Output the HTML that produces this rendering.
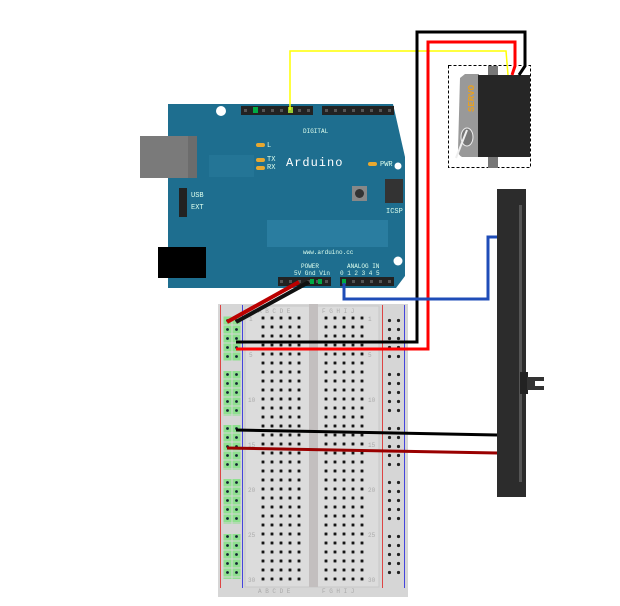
<!DOCTYPE html>
<html><head><meta charset="utf-8"><style>
html,body{margin:0;padding:0;background:#fff;width:620px;height:606px;overflow:hidden}
svg{display:block}
text{font-family:"Liberation Mono",monospace}
</style></head><body>
<svg width="620" height="606" viewBox="0 0 620 606" xmlns="http://www.w3.org/2000/svg">
<defs>
<pattern id="h" x="259" y="314" width="9" height="9" patternUnits="userSpaceOnUse">
<circle cx="4" cy="4" r="2" fill="#888"/><circle cx="4" cy="4" r="1.2" fill="#111"/>
</pattern>
<pattern id="g" x="223" y="316" width="9" height="9" patternUnits="userSpaceOnUse">
<rect x="0.5" y="0.5" width="8" height="8" fill="#8fe08f"/><circle cx="4.5" cy="4.5" r="1.4" fill="#123"/>
</pattern>
<pattern id="rh" x="385" y="316" width="9" height="9" patternUnits="userSpaceOnUse">
<circle cx="4.5" cy="4.5" r="1.6" fill="#222"/>
</pattern>
<pattern id="hd" x="241" y="106" width="9" height="9" patternUnits="userSpaceOnUse">
<rect width="9" height="9" fill="#222"/><rect x="3" y="3" width="3" height="3" fill="#555"/>
</pattern>
</defs>

<!-- breadboard -->
<rect x="218" y="304" width="190" height="293" fill="#d6d6d6"/>
<rect x="245" y="306" width="134" height="281" fill="#dcdcdc" stroke="#c8c8c8"/>
<rect x="309" y="304" width="9" height="283" fill="#c3bfbf"/>
<line x1="220.5" y1="305" x2="220.5" y2="588" stroke="#d44" stroke-width="1"/>
<line x1="242.5" y1="305" x2="242.5" y2="588" stroke="#44d" stroke-width="1"/>
<line x1="382.5" y1="305" x2="382.5" y2="588" stroke="#d44" stroke-width="1"/>
<line x1="404.5" y1="305" x2="404.5" y2="588" stroke="#44d" stroke-width="1"/>
<rect x="259" y="314" width="45" height="270" fill="url(#h)"/>
<rect x="322" y="314" width="45" height="270" fill="url(#h)"/>
<g fill="url(#g)">
<rect x="223" y="316" width="18" height="45"/><rect x="223" y="371" width="18" height="45"/>
<rect x="223" y="425" width="18" height="45"/><rect x="223" y="479" width="18" height="45"/>
<rect x="223" y="534" width="18" height="45"/>
</g>
<g fill="url(#rh)">
<rect x="385" y="316" width="18" height="45"/><rect x="385" y="371" width="18" height="45"/>
<rect x="385" y="425" width="18" height="45"/><rect x="385" y="479" width="18" height="45"/>
<rect x="385" y="534" width="18" height="45"/>
</g>
<g font-size="6" fill="#aaa" font-family="Liberation Sans,sans-serif">
<text x="258" y="313">A B C D E</text><text x="322" y="313">F G H I J</text>
<text x="258" y="593">A B C D E</text><text x="322" y="593">F G H I J</text>
<text x="249" y="321">1</text><text x="249" y="357">5</text><text x="248" y="402">10</text><text x="248" y="447">15</text><text x="248" y="492">20</text><text x="248" y="537">25</text><text x="248" y="582">30</text>
<text x="368" y="321">1</text><text x="368" y="357">5</text><text x="368" y="402">10</text><text x="368" y="447">15</text><text x="368" y="492">20</text><text x="368" y="537">25</text><text x="368" y="582">30</text>
</g>

<!-- Arduino -->
<path d="M168 104 H393 L405 157 V276 L396 288 H168 Z" fill="#1e6e8f"/>
<rect x="140" y="136" width="57" height="42" fill="#7a7a7a"/><rect x="188" y="136" width="9" height="42" fill="#6c6c6c"/>
<rect x="158" y="247" width="48" height="31" fill="#000"/>
<rect x="267" y="220" width="121" height="27" fill="#2a7da0"/>
<rect x="209" y="155" width="45" height="22" fill="#247596"/>
<circle cx="221" cy="111" r="5" fill="#fff"/><circle cx="398" cy="166" r="3.5" fill="#fff"/><circle cx="398" cy="261" r="4.5" fill="#fff"/>
<rect x="241" y="106" width="72" height="9" fill="url(#hd)"/>
<rect x="322" y="106" width="72" height="9" fill="url(#hd)"/>
<rect x="278" y="277" width="53" height="9" fill="url(#hd)"/>
<rect x="340" y="277" width="54" height="9" fill="url(#hd)"/>
<rect x="253" y="107" width="5" height="6" fill="#0a4"/><rect x="288" y="107" width="5" height="6" fill="#9c3"/>
<rect x="310" y="279" width="4" height="5" fill="#0a4"/><rect x="318" y="279" width="4" height="5" fill="#0a4"/><rect x="342" y="279" width="4" height="5" fill="#0a4"/>
<rect x="352" y="186" width="15" height="15" fill="#888"/><circle cx="359.5" cy="193.5" r="4.5" fill="#333"/>
<rect x="385" y="179" width="18" height="24" fill="#333"/>
<rect x="179" y="188" width="8" height="29" fill="#222"/>
<g fill="#e8a830"><rect x="256" y="143" width="9" height="4" rx="2"/><rect x="256" y="158" width="9" height="4" rx="2"/><rect x="256" y="166" width="9" height="4" rx="2"/><rect x="368" y="162" width="9" height="4" rx="2"/></g>
<g fill="#dfe" font-size="7">
<text x="286" y="166" font-size="12" fill="#fff" letter-spacing="1">Arduino</text>
<text x="267" y="147">L</text><text x="267" y="161">TX</text><text x="267" y="169">RX</text>
<text x="380" y="166">PWR</text><text x="191" y="197">USB</text><text x="191" y="209">EXT</text>
<text x="386" y="213">ICSP</text><text x="303" y="254" font-size="6">www.arduino.cc</text>
<text x="301" y="268" font-size="6">POWER</text><text x="347" y="268" font-size="6">ANALOG IN</text>
<text x="294" y="275" font-size="6">5V Gnd Vin</text><text x="340" y="275" font-size="6">0 1 2 3 4 5</text>
<text x="303" y="133" font-size="6">DIGITAL</text>
</g>

<!-- potentiometer -->
<rect x="497" y="189" width="29" height="308" fill="#2c2c2c"/>
<rect x="519" y="205" width="3" height="277" fill="#555"/>
<rect x="520" y="372" width="8" height="22" fill="#222"/>
<path d="M527 377 H544 V381 H535 V386 H544 V390 H527 Z" fill="#333"/>

<!-- servo -->
<rect x="448.5" y="65.5" width="82" height="102" fill="none" stroke="#000" stroke-dasharray="3,2"/>
<rect x="488" y="66" width="10" height="102" fill="#777"/>
<path d="M460 78 L465 74 H479 V157 H462 Q458 155 458 150 Z" fill="#999"/>
<ellipse cx="467" cy="137" rx="6" ry="9" fill="#777" stroke="#eee"/>
<path d="M456 158 L467 130" stroke="#eee" stroke-width="2"/>
<rect x="478" y="75" width="52" height="82" fill="#262626"/>
<text transform="translate(474,112) rotate(-90)" font-size="9" font-weight="bold" fill="#e8a020" font-family="Liberation Sans,sans-serif">SERVO</text>

<!-- wires -->
<g fill="none" stroke-linejoin="miter">
<path d="M290 110 V51 H506 L508 75" stroke="#ff0" stroke-width="1.5"/>
<path d="M236 342 H417 V32 H525 V66 L519 75" stroke="#000" stroke-width="3"/>
<path d="M236 349 H428 V42 H515 V66 L512 75" stroke="#f00" stroke-width="3"/>
<path d="M344 283 V299 H488 V237 H497" stroke="#1f4db8" stroke-width="3"/>
<path d="M236 430 L497 435" stroke="#000" stroke-width="3"/>
<path d="M227 448 L497 453" stroke="#900" stroke-width="3"/>
<path d="M299 282 L227 322" stroke="#b00" stroke-width="4"/>
<path d="M309 282 L236 322" stroke="#111" stroke-width="4"/>
</g>
</svg>
</body></html>
